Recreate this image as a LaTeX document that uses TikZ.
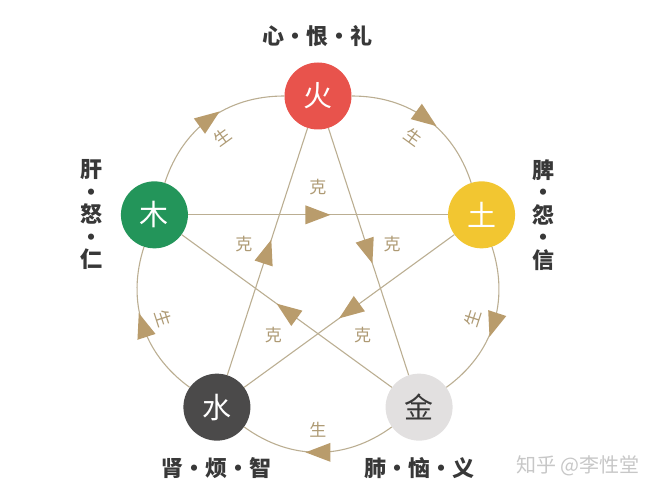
\documentclass[tikz,border=0pt]{standalone}
\usepackage{fontspec}
\setmainfont{Noto Sans CJK SC}
\usetikzlibrary{decorations.markings, positioning}
\definecolor{firered}{HTML}{E8534C}
\definecolor{woodgreen}{HTML}{23955A}
\definecolor{earthyellow}{HTML}{F2C631}
\definecolor{waterdark}{HTML}{4B4A4A}
\definecolor{metalgray}{HTML}{E2E0E0}
\definecolor{linetan}{HTML}{BBAE92}
\definecolor{tiptan}{HTML}{B99C6C}
\definecolor{labeltan}{HTML}{AE9A74}
\definecolor{organtext}{HTML}{383838}
\tikzset{
  element/.style={circle, minimum size=67pt, inner sep=0pt, text=white,
    font=\fontsize{29}{29}\selectfont},
  organ/.style={inner sep=0pt, text=organtext, align=center,
    font=\fontsize{22}{22.5}\selectfont\bfseries},
  link/.style={draw=linetan, line width=1.1pt},
  midtip/.style={postaction={decorate, decoration={markings,
    mark=at position 0.5 with {\fill[tiptan] (12.5pt,0pt) -- (-12.5pt,9.5pt) -- (-12.5pt,-9.5pt) -- cycle;}}}},
  sheng/.style={sloped, inner sep=0pt, text=labeltan, font=\fontsize{17}{17}\selectfont},
  ke/.style={auto, circle, inner sep=11pt, text=labeltan, font=\fontsize{17}{17}\selectfont},
}

\begin{document}
\begin{tikzpicture}[x=1pt, y=1pt]
  \useasboundingbox (-318,-232) rectangle (344,268);

  \node[element, fill=firered] (fire) at (90:172pt) {火};
  \node[element, fill=earthyellow] (earth) at (18:172pt) {土};
  \node[element, fill=metalgray, text=organtext] (metal) at (-54:172pt) {金};
  \node[element, fill=waterdark] (water) at (-126:172pt) {水};
  \node[element, fill=woodgreen] (wood) at (162:172pt) {木};

  \node[organ, above=15pt of fire] (heart) {心・恨・礼};
  \node[organ, right=17pt of earth] (spleen) {脾\\・\\怨\\・\\信};
  \node[organ, below=16pt of metal] (lung) {肺・恼・义};
  \node[organ, below=16pt of water] (kidney) {肾・烦・智};
  \node[organ, left=18pt of wood] (liver) {肝\\・\\怒\\・\\仁};

  % sheng cycle
  \draw[link, midtip] (wood) to[bend left=36] node[sheng, below=14pt] (s-wf) {生} (fire);
  \draw[link, midtip] (fire) to[bend left=36] node[sheng, below=14pt] (s-fe) {生} (earth);
  \draw[link, midtip] (earth) to[bend left=36] node[sheng, above=14pt] (s-em) {生} (metal);
  \draw[link, midtip] (metal) to[bend left=36] node[sheng, above=14pt] (s-mw) {生} (water);
  \draw[link, midtip] (water) to[bend left=36] node[sheng, above=14pt] (s-ww) {生} (wood);

  % ke cycle
  \draw[link, midtip] (wood) -- node[ke] (k-we) {克} (earth);
  \draw[link, midtip] (earth) -- node[ke, pos=0.53] (k-ew) {克} (water);
  \draw[link, midtip] (water) -- node[ke, pos=0.45] (k-wf) {克} (fire);
  \draw[link, midtip] (fire) -- node[ke, pos=0.55] (k-fm) {克} (metal);
  \draw[link, midtip] (metal) -- node[ke, pos=0.47] (k-mw) {克} (wood);

  \node[text=black!22, font=\fontsize{20}{20}\selectfont] (mark) at (260,-198) {知乎 @李性堂};
\end{tikzpicture}
\end{document}
